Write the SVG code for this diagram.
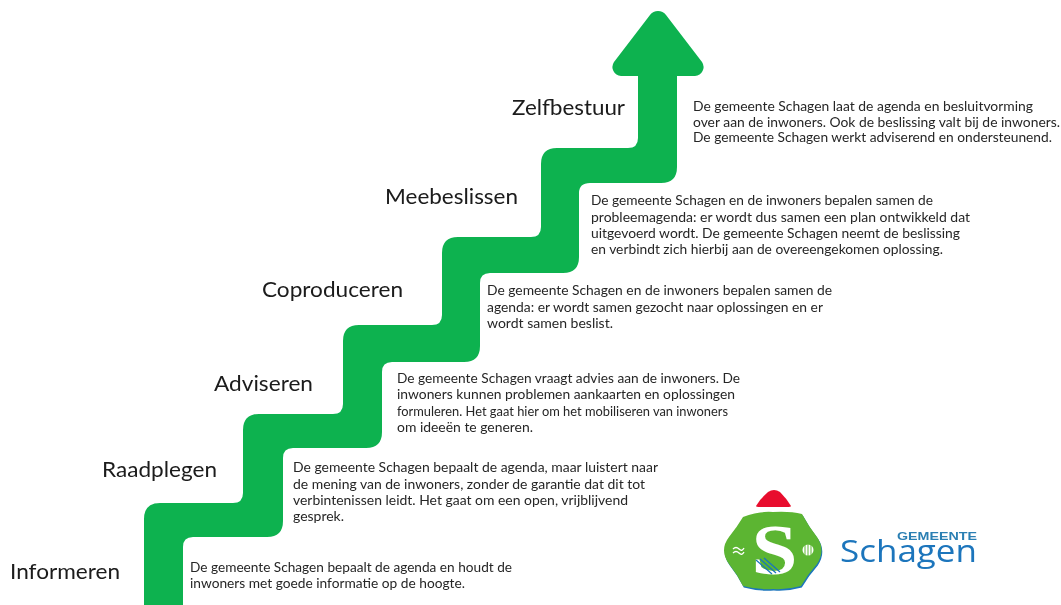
<svg xmlns="http://www.w3.org/2000/svg" width="1061" height="605" viewBox="0 0 1061 605">
<style>
.h{font-family:"Lato","Liberation Sans",sans-serif;font-size:22px;fill:#1a1a1a}
.t{font-family:"Lato","Liberation Sans",sans-serif;font-size:12.6px;fill:#262626}
</style>
<defs><filter id="soft" x="-5%" y="-5%" width="110%" height="110%"><feGaussianBlur stdDeviation="0.35"/></filter>
<filter id="soft2" x="-5%" y="-5%" width="110%" height="110%"><feGaussianBlur stdDeviation="0.6"/></filter></defs>
<rect width="1061" height="605" fill="#fff"/>
<g id="stairs-arrow" filter="url(#soft)">
<path fill="#0bb24f" d="M144 605V519Q144 503 160 503H233Q243 503 243 493V430Q243 414 259 414H333Q343 414 343 404V341Q343 325 359 325H432Q442 325 442 315V253Q442 237 458 237H531Q541 237 541 227V164Q541 148 557 148H628Q638 148 638 138V76H621A9 9 0 0 1 614 62L650 15A10 10 0 0 1 666 15L702 62A9 9 0 0 1 695 76H677V167Q677 183 661 183H590Q579 183 579 193V257Q579 273 563 273H490Q480 273 480 283V346Q480 362 464 362H392Q382 362 382 372V432Q382 448 366 448H293Q283 448 283 458V521Q283 537 267 537H193Q183 537 183 547V605Z"/>
</g>
<g id="step-informeren" filter="url(#soft)">
<text class="h" x="10" y="579" textLength="110" lengthAdjust="spacingAndGlyphs">Informeren</text>
<text class="t" x="190" y="572" textLength="322" lengthAdjust="spacingAndGlyphs">De gemeente Schagen bepaalt de agenda en houdt de</text>
<text class="t" x="190" y="588" textLength="275" lengthAdjust="spacingAndGlyphs">inwoners met goede informatie op de hoogte.</text>
</g>
<g id="step-raadplegen" filter="url(#soft)">
<text class="h" x="102" y="477" textLength="115" lengthAdjust="spacingAndGlyphs">Raadplegen</text>
<text class="t" x="293" y="472" textLength="365" lengthAdjust="spacingAndGlyphs">De gemeente Schagen bepaalt de agenda, maar luistert naar</text>
<text class="t" x="293" y="489" textLength="352" lengthAdjust="spacingAndGlyphs">de mening van de inwoners, zonder de garantie dat dit tot</text>
<text class="t" x="293" y="505" textLength="335" lengthAdjust="spacingAndGlyphs">verbintenissen leidt. Het gaat om een open, vrijblijvend</text>
<text class="t" x="293" y="521" textLength="51" lengthAdjust="spacingAndGlyphs">gesprek.</text>
</g>
<g id="step-adviseren" filter="url(#soft)">
<text class="h" x="214" y="391" textLength="99" lengthAdjust="spacingAndGlyphs">Adviseren</text>
<text class="t" x="397" y="383" textLength="343" lengthAdjust="spacingAndGlyphs">De gemeente Schagen vraagt advies aan de inwoners. De</text>
<text class="t" x="397" y="399" textLength="338" lengthAdjust="spacingAndGlyphs">inwoners kunnen problemen aankaarten en oplossingen</text>
<text class="t" x="397" y="416" textLength="331" lengthAdjust="spacingAndGlyphs">formuleren. Het gaat hier om het mobiliseren van inwoners</text>
<text class="t" x="397" y="432" textLength="136" lengthAdjust="spacingAndGlyphs">om ideeën te generen.</text>
</g>
<g id="step-coproduceren" filter="url(#soft)">
<text class="h" x="262" y="297" textLength="141" lengthAdjust="spacingAndGlyphs">Coproduceren</text>
<text class="t" x="487" y="295" textLength="345" lengthAdjust="spacingAndGlyphs">De gemeente Schagen en de inwoners bepalen samen de</text>
<text class="t" x="487" y="312" textLength="336" lengthAdjust="spacingAndGlyphs">agenda: er wordt samen gezocht naar oplossingen en er</text>
<text class="t" x="487" y="328" textLength="126" lengthAdjust="spacingAndGlyphs">wordt samen beslist.</text>
</g>
<g id="step-meebeslissen" filter="url(#soft)">
<text class="h" x="385" y="204" textLength="133" lengthAdjust="spacingAndGlyphs">Meebeslissen</text>
<text class="t" x="591" y="205" textLength="342" lengthAdjust="spacingAndGlyphs">De gemeente Schagen en de inwoners bepalen samen de</text>
<text class="t" x="591" y="222" textLength="379" lengthAdjust="spacingAndGlyphs">probleemagenda: er wordt dus samen een plan ontwikkeld dat</text>
<text class="t" x="591" y="238" textLength="369" lengthAdjust="spacingAndGlyphs">uitgevoerd wordt. De gemeente Schagen neemt de beslissing</text>
<text class="t" x="591" y="254" textLength="352" lengthAdjust="spacingAndGlyphs">en verbindt zich hierbij aan de overeengekomen oplossing.</text>
</g>
<g id="step-zelfbestuur" filter="url(#soft)">
<text class="h" x="512" y="115" textLength="113" lengthAdjust="spacingAndGlyphs">Zelfbestuur</text>
<text class="t" x="693" y="111" textLength="340" lengthAdjust="spacingAndGlyphs">De gemeente Schagen laat de agenda en besluitvorming</text>
<text class="t" x="693" y="127" textLength="367" lengthAdjust="spacingAndGlyphs">over aan de inwoners. Ook de beslissing valt bij de inwoners.</text>
<text class="t" x="693" y="142" textLength="359" lengthAdjust="spacingAndGlyphs">De gemeente Schagen werkt adviserend en ondersteunend.</text>
</g>
<g id="logo" filter="url(#soft2)">
<path fill="#e8112d" d="M756 506Q760 499 768 492Q774 488 780 492Q787 499 791 506Q791 507 787 507H760Q756 507 756 506Z"/>
<path fill="#1b75bc" transform="translate(.8 1.500)" d="M743 517Q758 511 773 512Q790 511 802 514Q809 527 817 537Q826 550 817 564Q808 574 801 586Q787 590 773 589Q757 590 743 586Q737 574 729 564Q719 550 729 537Q737 527 743 517Z"/>
<path fill="#5cb531" d="M743 517Q758 511 773 512Q790 511 802 514Q809 527 817 537Q826 550 817 564Q808 574 801 586Q787 590 773 589Q757 590 743 586Q737 574 729 564Q719 550 729 537Q737 527 743 517Z"/>
<text x="774.500" y="574" font-family="Liberation Serif,serif" font-weight="700" font-size="72" fill="#fff" text-anchor="middle" textLength="46" lengthAdjust="spacingAndGlyphs">S</text>
<path fill="none" stroke="#1b75bc" stroke-width="1.300" d="M756 560L772 574M760 559L776 573M764 558L780 572"/>
<path fill="none" stroke="#fff" stroke-width="1.300" d="M733 549Q736 546 739 549T744 548M733 553Q736 550 739 553T744 552"/>
<circle cx="808" cy="550" r="5.500" fill="#fff"/>
<path fill="none" stroke="#5cb531" d="M805 545V555M808 544V556M811 545V555"/>
<text x="897" y="540" font-family="Liberation Sans,sans-serif" font-weight="700" font-size="10.500" fill="#2b7fb3" textLength="80" lengthAdjust="spacingAndGlyphs">GEMEENTE</text>
<text x="840" y="562" font-family="Open Sans,Liberation Sans,sans-serif" font-size="31" fill="#1b75bc" textLength="137" lengthAdjust="spacingAndGlyphs">Schagen</text>
</g>
</svg>
